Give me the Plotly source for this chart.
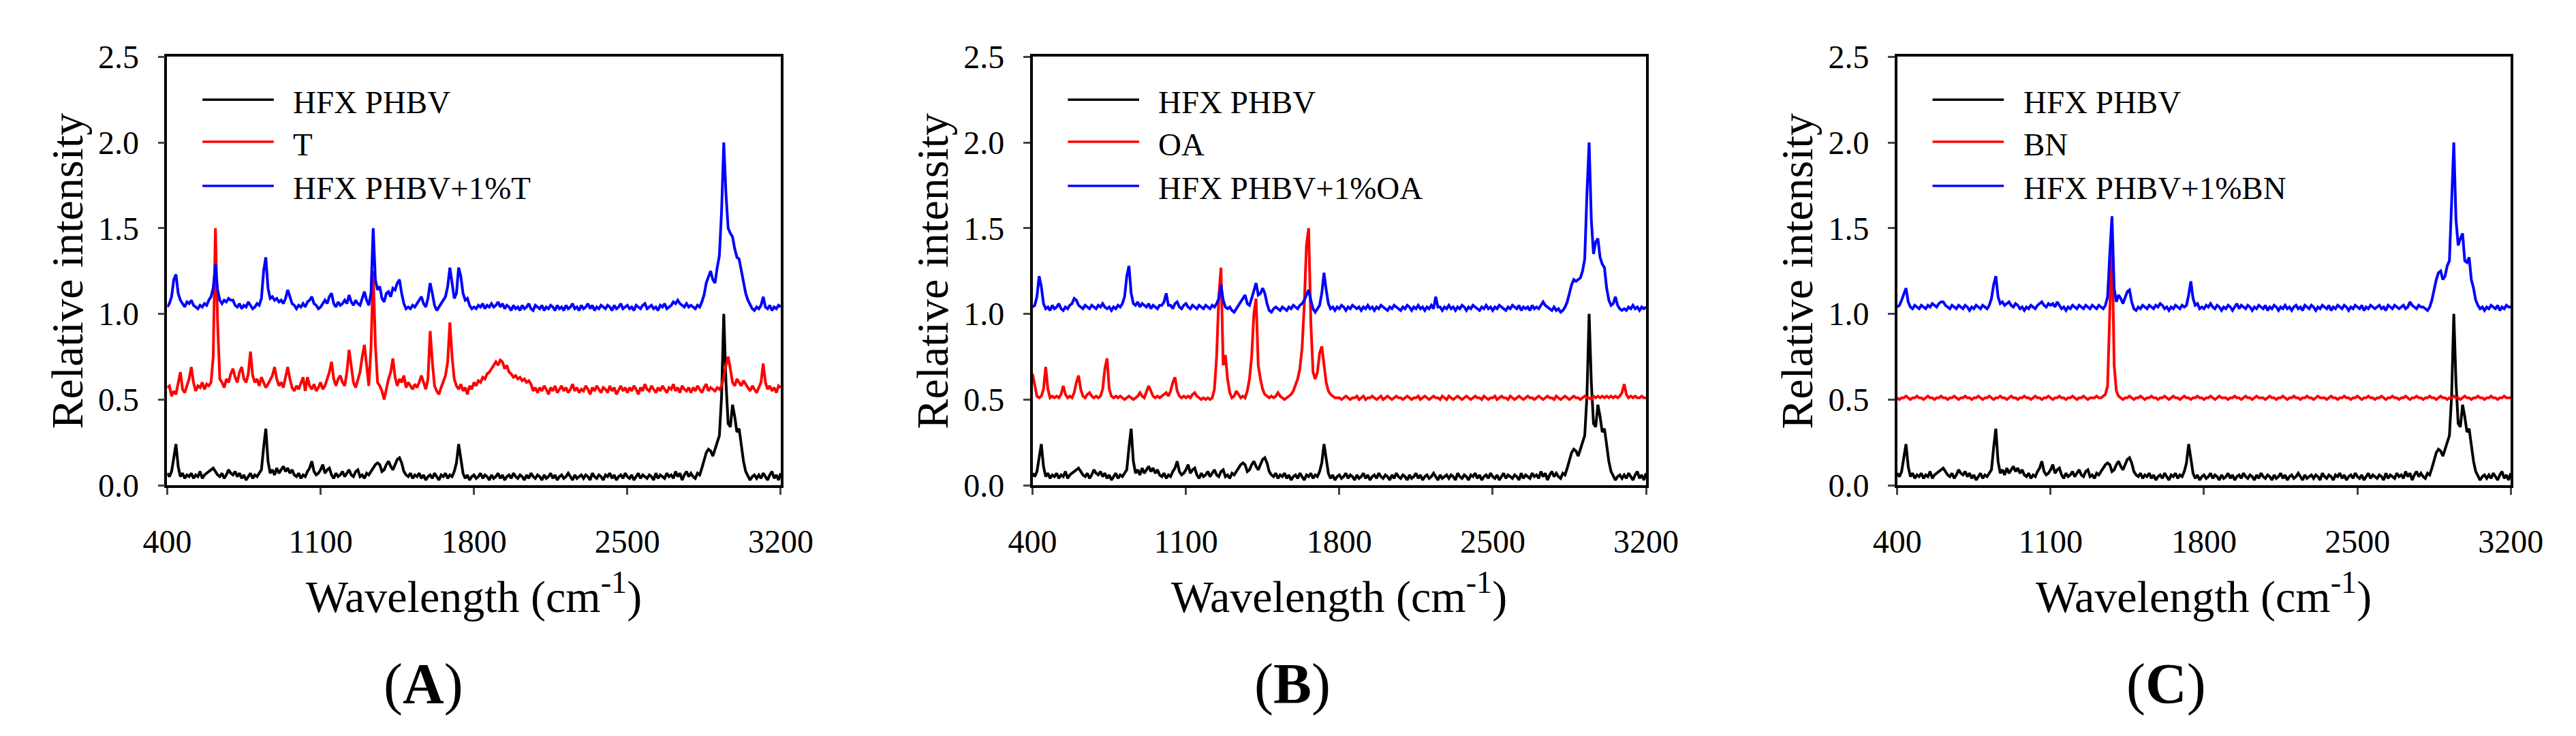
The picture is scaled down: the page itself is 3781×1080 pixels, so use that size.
import plotly.graph_objects as go
from plotly.subplots import make_subplots

# Raman spectra, one value every 10 cm-1 from 400 to 3200
wavenumber = list(range(400, 3201, 10))
x_ticks = [400, 1100, 1800, 2500, 3200]
y_ticks = [0.0, 0.5, 1.0, 1.5, 2.0, 2.5]

# neat HFX PHBV (same curve in all three panels)
hfx_phbv = [
    0.07, 0.05, 0.08, 0.16, 0.24, 0.11, 0.05, 0.07, 0.04, 0.06,  # 400
    0.05, 0.07, 0.04, 0.06, 0.05, 0.08, 0.04, 0.06, 0.07, 0.08,  # 500
    0.09, 0.10, 0.08, 0.06, 0.05, 0.07, 0.04, 0.06, 0.09, 0.07,  # 600
    0.06, 0.08, 0.05, 0.07, 0.04, 0.06, 0.03, 0.05, 0.07, 0.04,  # 700
    0.06, 0.05, 0.07, 0.09, 0.22, 0.33, 0.14, 0.07, 0.09, 0.06,  # 800
    0.10, 0.07, 0.09, 0.11, 0.08, 0.10, 0.07, 0.09, 0.06, 0.05,  # 900
    0.07, 0.04, 0.06, 0.05, 0.08, 0.10, 0.14, 0.08, 0.06, 0.07,  # 1000
    0.09, 0.12, 0.07, 0.09, 0.10, 0.06, 0.04, 0.07, 0.05, 0.06,  # 1100
    0.08, 0.05, 0.07, 0.09, 0.06, 0.05, 0.08, 0.09, 0.05, 0.06,  # 1200
    0.04, 0.07, 0.06, 0.08, 0.10, 0.12, 0.13, 0.12, 0.08, 0.09,  # 1300
    0.12, 0.14, 0.11, 0.09, 0.12, 0.15, 0.16, 0.13, 0.08, 0.06,  # 1400
    0.05, 0.07, 0.04, 0.06, 0.05, 0.07, 0.04, 0.06, 0.03, 0.05,  # 1500
    0.06, 0.04, 0.07, 0.05, 0.03, 0.06, 0.05, 0.07, 0.04, 0.06,  # 1600
    0.05, 0.08, 0.13, 0.24, 0.15, 0.07, 0.04, 0.06, 0.03, 0.05,  # 1700
    0.06, 0.04, 0.05, 0.07, 0.04, 0.06, 0.05, 0.03, 0.06, 0.04,  # 1800
    0.05, 0.07, 0.04, 0.06, 0.03, 0.05, 0.06, 0.04, 0.07, 0.05,  # 1900
    0.04, 0.06, 0.05, 0.03, 0.06, 0.04, 0.07, 0.05, 0.04, 0.06,  # 2000
    0.05, 0.03, 0.06, 0.04, 0.05, 0.07, 0.04, 0.06, 0.03, 0.05,  # 2100
    0.06, 0.04, 0.05, 0.07, 0.05, 0.03, 0.06, 0.04, 0.05, 0.06,  # 2200
    0.04, 0.06, 0.05, 0.03, 0.07, 0.05, 0.04, 0.06, 0.05, 0.03,  # 2300
    0.06, 0.05, 0.07, 0.04, 0.06, 0.03, 0.05, 0.06, 0.04, 0.07,  # 2400
    0.05, 0.04, 0.06, 0.03, 0.05, 0.07, 0.04, 0.06, 0.05, 0.04,  # 2500
    0.06, 0.05, 0.03, 0.07, 0.04, 0.06, 0.05, 0.04, 0.07, 0.05,  # 2600
    0.06, 0.04, 0.08, 0.05, 0.07, 0.03, 0.06, 0.08, 0.05, 0.07,  # 2700
    0.05, 0.04, 0.07, 0.06, 0.10, 0.15, 0.19, 0.21, 0.20, 0.17,  # 2800
    0.21, 0.25, 0.29, 0.52, 1.00, 0.60, 0.36, 0.34, 0.47, 0.40,  # 2900
    0.31, 0.33, 0.22, 0.14, 0.08, 0.05, 0.03, 0.05, 0.06, 0.04,  # 3000
    0.06, 0.04, 0.07, 0.05, 0.03, 0.06, 0.08, 0.04, 0.06, 0.03,  # 3100
    0.07,  # 3200
]

# panel A
t_pure = [
    0.57, 0.58, 0.52, 0.55, 0.53, 0.60, 0.66, 0.56, 0.54, 0.58,  # 400
    0.62, 0.69, 0.60, 0.55, 0.58, 0.57, 0.60, 0.56, 0.59, 0.58,  # 500
    0.60, 0.75, 1.50, 0.95, 0.62, 0.60, 0.57, 0.62, 0.60, 0.65,  # 600
    0.68, 0.63, 0.60, 0.66, 0.69, 0.62, 0.60, 0.65, 0.78, 0.64,  # 700
    0.60, 0.62, 0.58, 0.63, 0.60, 0.57, 0.59, 0.62, 0.64, 0.69,  # 800
    0.62, 0.58, 0.60, 0.57, 0.63, 0.69, 0.62, 0.57, 0.55, 0.58,  # 900
    0.56, 0.60, 0.63, 0.55, 0.63, 0.58, 0.56, 0.59, 0.55, 0.57,  # 1000
    0.60, 0.56, 0.58, 0.62, 0.66, 0.72, 0.62, 0.58, 0.62, 0.64,  # 1100
    0.60, 0.58, 0.66, 0.79, 0.68, 0.60, 0.57, 0.62, 0.66, 0.75,  # 1200
    0.82, 0.70, 0.58, 0.80, 1.25, 0.82, 0.60, 0.58, 0.55, 0.50,  # 1300
    0.56, 0.62, 0.66, 0.74, 0.63, 0.58, 0.62, 0.60, 0.64, 0.57,  # 1400
    0.60, 0.58, 0.56, 0.59, 0.57, 0.60, 0.64, 0.60, 0.56, 0.62,  # 1500
    0.90, 0.72, 0.58, 0.55, 0.53, 0.57, 0.60, 0.64, 0.72, 0.95,  # 1600
    0.75, 0.62, 0.58, 0.56, 0.59, 0.55, 0.57, 0.53, 0.58, 0.56,  # 1700
    0.60, 0.58, 0.61, 0.60, 0.63, 0.62, 0.65, 0.66, 0.68, 0.70,  # 1800
    0.72, 0.70, 0.73, 0.72, 0.68, 0.70, 0.66, 0.65, 0.63, 0.64,  # 1900
    0.62, 0.63, 0.61, 0.62, 0.60, 0.61, 0.59, 0.55, 0.57, 0.54,  # 2000
    0.57, 0.55, 0.58, 0.56, 0.53, 0.57, 0.55, 0.58, 0.54, 0.56,  # 2100
    0.58, 0.55, 0.57, 0.54, 0.56, 0.59, 0.55, 0.57, 0.54, 0.56,  # 2200
    0.55, 0.58, 0.56, 0.53, 0.57, 0.55, 0.58, 0.56, 0.54, 0.57,  # 2300
    0.56, 0.54, 0.58, 0.55, 0.57, 0.53, 0.56, 0.58, 0.55, 0.57,  # 2400
    0.54, 0.57, 0.55, 0.58, 0.56, 0.53, 0.57, 0.55, 0.59, 0.56,  # 2500
    0.55, 0.58, 0.56, 0.54, 0.57, 0.55, 0.58, 0.56, 0.54, 0.57,  # 2600
    0.56, 0.59, 0.55, 0.57, 0.54, 0.58, 0.56, 0.55, 0.57, 0.54,  # 2700
    0.57, 0.55, 0.58, 0.56, 0.54, 0.57, 0.59, 0.55, 0.57, 0.56,  # 2800
    0.55, 0.57, 0.56, 0.58, 0.63, 0.70, 0.75, 0.68, 0.60, 0.58,  # 2900
    0.62, 0.60, 0.58, 0.61, 0.59, 0.57, 0.55, 0.58, 0.56, 0.54,  # 3000
    0.57, 0.60, 0.71, 0.60, 0.56, 0.58, 0.55, 0.57, 0.54, 0.58,  # 3100
    0.57,  # 3200
]

hfx_phbv_t = [
    1.04, 1.06, 1.10, 1.20, 1.23, 1.12, 1.08, 1.06, 1.04, 1.07,  # 400
    1.06, 1.08, 1.05, 1.04, 1.03, 1.05, 1.04, 1.06, 1.05, 1.08,  # 500
    1.10, 1.15, 1.29, 1.14, 1.08, 1.06, 1.08, 1.07, 1.09, 1.08,  # 600
    1.08, 1.05, 1.04, 1.06, 1.03, 1.05, 1.04, 1.07, 1.05, 1.03,  # 700
    1.04, 1.06, 1.05, 1.09, 1.25, 1.33, 1.15, 1.09, 1.10, 1.08,  # 800
    1.09, 1.07, 1.08, 1.06, 1.09, 1.14, 1.10, 1.06, 1.05, 1.03,  # 900
    1.05, 1.04, 1.06, 1.04, 1.07, 1.08, 1.10, 1.06, 1.05, 1.03,  # 1000
    1.04, 1.06, 1.08, 1.06, 1.10, 1.12, 1.06, 1.04, 1.07, 1.05,  # 1100
    1.06, 1.08, 1.06, 1.11, 1.07, 1.05, 1.08, 1.06, 1.05, 1.09,  # 1200
    1.13, 1.08, 1.05, 1.12, 1.50, 1.20, 1.14, 1.16, 1.09, 1.07,  # 1300
    1.12, 1.13, 1.10, 1.15, 1.14, 1.18, 1.20, 1.12, 1.06, 1.03,  # 1400
    1.04, 1.03, 1.05, 1.04, 1.06, 1.08, 1.10, 1.06, 1.04, 1.09,  # 1500
    1.18, 1.12, 1.05, 1.02, 1.04, 1.06, 1.08, 1.10, 1.16, 1.27,  # 1600
    1.18, 1.09, 1.12, 1.27, 1.22, 1.12, 1.08, 1.09, 1.05, 1.03,  # 1700
    1.04, 1.03, 1.05, 1.04, 1.06, 1.03, 1.05, 1.04, 1.06, 1.04,  # 1800
    1.05, 1.07, 1.04, 1.06, 1.03, 1.05, 1.04, 1.02, 1.05, 1.03,  # 1900
    1.04, 1.02, 1.05, 1.03, 1.04, 1.06, 1.03, 1.02, 1.05, 1.04,  # 2000
    1.03, 1.05, 1.02, 1.04, 1.03, 1.05, 1.04, 1.02, 1.05, 1.03,  # 2100
    1.04, 1.02, 1.05, 1.03, 1.04, 1.06, 1.03, 1.04, 1.02, 1.05,  # 2200
    1.03, 1.04, 1.06, 1.03, 1.05, 1.02, 1.04, 1.03, 1.05, 1.04,  # 2300
    1.03, 1.05, 1.04, 1.02, 1.05, 1.03, 1.04, 1.06, 1.03, 1.04,  # 2400
    1.05, 1.03, 1.04, 1.02, 1.05, 1.04, 1.03, 1.05, 1.06, 1.03,  # 2500
    1.04, 1.05, 1.03, 1.04, 1.02, 1.05, 1.04, 1.06, 1.03, 1.04,  # 2600
    1.05, 1.07, 1.06, 1.08, 1.06, 1.05, 1.04, 1.06, 1.04, 1.05,  # 2700
    1.04, 1.03, 1.05, 1.04, 1.07, 1.11, 1.18, 1.22, 1.25, 1.20,  # 2800
    1.18, 1.27, 1.34, 1.60, 2.00, 1.70, 1.50, 1.47, 1.45, 1.38,  # 2900
    1.33, 1.32, 1.25, 1.18, 1.12, 1.08, 1.05, 1.03, 1.02, 1.04,  # 3000
    1.03, 1.05, 1.10, 1.04, 1.03, 1.05, 1.02, 1.04, 1.03, 1.05,  # 3100
    1.04,  # 3200
]

# panel B
oa_pure = [
    0.65, 0.58, 0.52, 0.51, 0.52, 0.56, 0.69, 0.56, 0.51, 0.52,  # 400
    0.51, 0.52, 0.51, 0.53, 0.58, 0.53, 0.51, 0.52, 0.51, 0.54,  # 500
    0.60, 0.64, 0.56, 0.52, 0.51, 0.53, 0.54, 0.52, 0.51, 0.52,  # 600
    0.51, 0.52, 0.56, 0.68, 0.74, 0.56, 0.52, 0.51, 0.52, 0.51,  # 700
    0.52, 0.51, 0.50, 0.51, 0.52, 0.51, 0.50, 0.51, 0.52, 0.54,  # 800
    0.52, 0.51, 0.54, 0.58, 0.55, 0.52, 0.51, 0.52, 0.51, 0.52,  # 900
    0.53, 0.54, 0.52, 0.55, 0.60, 0.63, 0.55, 0.52, 0.51, 0.52,  # 1000
    0.51, 0.52, 0.51, 0.53, 0.54, 0.52, 0.51, 0.50, 0.51, 0.50,  # 1100
    0.51, 0.50, 0.51, 0.56, 0.75, 1.10, 1.27, 0.70, 0.76, 0.62,  # 1200
    0.54, 0.51, 0.52, 0.55, 0.53, 0.51, 0.52, 0.51, 0.55, 0.62,  # 1300
    0.75, 1.00, 1.09, 0.70, 0.62, 0.56, 0.53, 0.52, 0.51, 0.52,  # 1400
    0.51, 0.52, 0.54, 0.52, 0.51, 0.50, 0.51, 0.52, 0.53, 0.55,  # 1500
    0.58, 0.62, 0.68, 0.80, 1.05, 1.40, 1.50, 0.95, 0.66, 0.62,  # 1600
    0.66, 0.77, 0.81, 0.70, 0.60, 0.55, 0.53, 0.52, 0.51, 0.51,  # 1700
    0.51, 0.50, 0.51, 0.52, 0.51, 0.50, 0.51, 0.51, 0.52, 0.50,  # 1800
    0.51, 0.52, 0.50, 0.51, 0.51, 0.52, 0.51, 0.50, 0.51, 0.52,  # 1900
    0.50, 0.51, 0.52, 0.51, 0.50, 0.51, 0.52, 0.51, 0.51, 0.50,  # 2000
    0.51, 0.52, 0.51, 0.50, 0.51, 0.51, 0.52, 0.50, 0.51, 0.52,  # 2100
    0.51, 0.50, 0.51, 0.52, 0.51, 0.51, 0.50, 0.52, 0.51, 0.50,  # 2200
    0.52, 0.51, 0.50, 0.51, 0.52, 0.51, 0.50, 0.51, 0.52, 0.51,  # 2300
    0.50, 0.51, 0.52, 0.51, 0.51, 0.50, 0.52, 0.51, 0.50, 0.51,  # 2400
    0.51, 0.52, 0.50, 0.51, 0.52, 0.51, 0.51, 0.50, 0.52, 0.51,  # 2500
    0.50, 0.51, 0.52, 0.51, 0.50, 0.51, 0.52, 0.51, 0.51, 0.50,  # 2600
    0.51, 0.52, 0.51, 0.50, 0.51, 0.52, 0.51, 0.51, 0.50, 0.52,  # 2700
    0.51, 0.50, 0.51, 0.52, 0.51, 0.50, 0.51, 0.52, 0.51, 0.51,  # 2800
    0.50, 0.51, 0.52, 0.51, 0.51, 0.50, 0.52, 0.51, 0.52, 0.51,  # 2900
    0.52, 0.51, 0.52, 0.51, 0.52, 0.51, 0.52, 0.51, 0.52, 0.54,  # 3000
    0.59, 0.53, 0.51, 0.52, 0.51, 0.52, 0.51, 0.51, 0.52, 0.51,  # 3100
    0.51,  # 3200
]

hfx_phbv_oa = [
    1.04, 1.05, 1.10, 1.22, 1.16, 1.06, 1.03, 1.04, 1.02, 1.05,  # 400
    1.03, 1.04, 1.06, 1.03, 1.02, 1.04, 1.03, 1.05, 1.06, 1.09,  # 500
    1.08, 1.05, 1.04, 1.03, 1.05, 1.04, 1.03, 1.05, 1.04, 1.03,  # 600
    1.05, 1.04, 1.06, 1.04, 1.03, 1.04, 1.02, 1.04, 1.03, 1.05,  # 700
    1.04, 1.06, 1.10, 1.22, 1.28, 1.12, 1.06, 1.05, 1.07, 1.04,  # 800
    1.06, 1.05, 1.04, 1.06, 1.03, 1.05, 1.04, 1.03, 1.05, 1.05,  # 900
    1.07, 1.12, 1.05, 1.05, 1.03, 1.06, 1.07, 1.04, 1.03, 1.05,  # 1000
    1.06, 1.04, 1.03, 1.05, 1.04, 1.03, 1.05, 1.04, 1.03, 1.05,  # 1100
    1.04, 1.03, 1.05, 1.04, 1.06, 1.09, 1.17, 1.08, 1.04, 1.03,  # 1200
    1.04, 1.02, 1.01, 1.03, 1.05, 1.07, 1.09, 1.11, 1.06, 1.05,  # 1300
    1.09, 1.14, 1.18, 1.11, 1.12, 1.15, 1.12, 1.06, 1.02, 1.01,  # 1400
    1.03, 1.04, 1.03, 1.02, 1.04, 1.03, 1.02, 1.04, 1.03, 1.05,  # 1500
    1.04, 1.03, 1.05, 1.06, 1.08, 1.11, 1.14, 1.08, 1.03, 1.01,  # 1600
    1.03, 1.05, 1.12, 1.24, 1.14, 1.06, 1.03, 1.04, 1.02, 1.04,  # 1700
    1.03, 1.05, 1.04, 1.02, 1.04, 1.03, 1.05, 1.04, 1.03, 1.04,  # 1800
    1.02, 1.04, 1.03, 1.05, 1.03, 1.04, 1.02, 1.04, 1.03, 1.05,  # 1900
    1.04, 1.03, 1.02, 1.04, 1.03, 1.05, 1.04, 1.03, 1.02, 1.04,  # 2000
    1.03, 1.05, 1.04, 1.02, 1.04, 1.03, 1.05, 1.03, 1.04, 1.02,  # 2100
    1.04, 1.03, 1.05, 1.03, 1.10, 1.04, 1.04, 1.02, 1.04, 1.03,  # 2200
    1.05, 1.03, 1.04, 1.02, 1.04, 1.03, 1.05, 1.04, 1.02, 1.04,  # 2300
    1.03, 1.05, 1.04, 1.03, 1.02, 1.04, 1.03, 1.05, 1.03, 1.04,  # 2400
    1.02, 1.04, 1.03, 1.05, 1.04, 1.03, 1.02, 1.04, 1.03, 1.05,  # 2500
    1.04, 1.03, 1.05, 1.02, 1.04, 1.03, 1.04, 1.02, 1.05, 1.03,  # 2600
    1.04, 1.03, 1.05, 1.07, 1.05, 1.04, 1.03, 1.02, 1.04, 1.02,  # 2700
    1.03, 1.01, 1.02, 1.04, 1.07, 1.12, 1.17, 1.20, 1.19, 1.20,  # 2800
    1.21, 1.25, 1.32, 1.70, 2.00, 1.55, 1.35, 1.42, 1.44, 1.33,  # 2900
    1.29, 1.27, 1.15, 1.08, 1.05, 1.06, 1.10, 1.05, 1.03, 1.02,  # 3000
    1.03, 1.02, 1.04, 1.03, 1.05, 1.03, 1.04, 1.02, 1.04, 1.03,  # 3100
    1.04,  # 3200
]

# panel C
bn_pure = [
    0.51, 0.50, 0.51, 0.51, 0.52, 0.51, 0.50, 0.51, 0.51, 0.52,  # 400
    0.51, 0.51, 0.50, 0.51, 0.52, 0.51, 0.51, 0.50, 0.51, 0.51,  # 500
    0.52, 0.51, 0.51, 0.50, 0.51, 0.51, 0.52, 0.51, 0.50, 0.51,  # 600
    0.51, 0.52, 0.51, 0.51, 0.50, 0.51, 0.51, 0.52, 0.51, 0.50,  # 700
    0.51, 0.51, 0.52, 0.51, 0.50, 0.51, 0.51, 0.52, 0.51, 0.51,  # 800
    0.50, 0.51, 0.52, 0.51, 0.51, 0.50, 0.51, 0.51, 0.52, 0.51,  # 900
    0.51, 0.50, 0.51, 0.52, 0.51, 0.51, 0.50, 0.51, 0.51, 0.52,  # 1000
    0.51, 0.50, 0.51, 0.51, 0.52, 0.51, 0.51, 0.50, 0.51, 0.51,  # 1100
    0.52, 0.51, 0.50, 0.51, 0.51, 0.52, 0.51, 0.50, 0.51, 0.51,  # 1200
    0.51, 0.52, 0.51, 0.51, 0.52, 0.53, 0.58, 1.05, 1.45, 0.70,  # 1300
    0.55, 0.52, 0.51, 0.50, 0.51, 0.51, 0.52, 0.51, 0.50, 0.51,  # 1400
    0.51, 0.52, 0.51, 0.50, 0.51, 0.51, 0.52, 0.51, 0.51, 0.50,  # 1500
    0.51, 0.51, 0.52, 0.51, 0.50, 0.51, 0.52, 0.51, 0.51, 0.50,  # 1600
    0.51, 0.52, 0.51, 0.51, 0.50, 0.51, 0.51, 0.52, 0.51, 0.51,  # 1700
    0.50, 0.51, 0.51, 0.52, 0.51, 0.50, 0.51, 0.52, 0.51, 0.51,  # 1800
    0.51, 0.50, 0.51, 0.51, 0.52, 0.51, 0.51, 0.50, 0.51, 0.52,  # 1900
    0.51, 0.51, 0.50, 0.51, 0.52, 0.51, 0.51, 0.51, 0.50, 0.51,  # 2000
    0.52, 0.51, 0.51, 0.50, 0.51, 0.51, 0.52, 0.51, 0.50, 0.51,  # 2100
    0.51, 0.52, 0.51, 0.51, 0.50, 0.51, 0.51, 0.52, 0.51, 0.51,  # 2200
    0.50, 0.51, 0.52, 0.51, 0.51, 0.51, 0.50, 0.51, 0.52, 0.51,  # 2300
    0.51, 0.50, 0.51, 0.51, 0.52, 0.51, 0.51, 0.50, 0.51, 0.51,  # 2400
    0.52, 0.51, 0.50, 0.51, 0.51, 0.52, 0.51, 0.51, 0.50, 0.51,  # 2500
    0.51, 0.52, 0.51, 0.50, 0.51, 0.51, 0.52, 0.51, 0.51, 0.50,  # 2600
    0.51, 0.51, 0.52, 0.51, 0.50, 0.51, 0.51, 0.52, 0.51, 0.51,  # 2700
    0.50, 0.51, 0.51, 0.52, 0.51, 0.51, 0.50, 0.51, 0.52, 0.51,  # 2800
    0.51, 0.50, 0.51, 0.51, 0.52, 0.51, 0.51, 0.50, 0.51, 0.52,  # 2900
    0.51, 0.51, 0.50, 0.51, 0.51, 0.52, 0.51, 0.51, 0.50, 0.51,  # 3000
    0.51, 0.52, 0.51, 0.51, 0.50, 0.51, 0.51, 0.52, 0.51, 0.51,  # 3100
    0.51,  # 3200
]

hfx_phbv_bn = [
    1.04, 1.05, 1.08, 1.12, 1.15, 1.07, 1.04, 1.03, 1.05, 1.04,  # 400
    1.03, 1.05, 1.04, 1.03, 1.05, 1.04, 1.06, 1.05, 1.04, 1.06,  # 500
    1.07, 1.07, 1.05, 1.04, 1.03, 1.05, 1.04, 1.03, 1.05, 1.04,  # 600
    1.03, 1.05, 1.04, 1.02, 1.04, 1.03, 1.05, 1.04, 1.03, 1.05,  # 700
    1.04, 1.03, 1.05, 1.09, 1.17, 1.22, 1.10, 1.06, 1.07, 1.05,  # 800
    1.06, 1.07, 1.05, 1.04, 1.06, 1.05, 1.03, 1.04, 1.02, 1.04,  # 900
    1.03, 1.05, 1.04, 1.03, 1.05, 1.06, 1.07, 1.05, 1.04, 1.06,  # 1000
    1.05, 1.06, 1.04, 1.07, 1.05, 1.03, 1.04, 1.02, 1.04, 1.03,  # 1100
    1.05, 1.04, 1.03, 1.05, 1.04, 1.03, 1.05, 1.04, 1.03, 1.05,  # 1200
    1.04, 1.03, 1.05, 1.04, 1.03, 1.05, 1.10, 1.35, 1.57, 1.15,  # 1300
    1.07, 1.11, 1.09, 1.06, 1.09, 1.13, 1.14, 1.07, 1.03, 1.02,  # 1400
    1.04, 1.03, 1.05, 1.04, 1.03, 1.05, 1.04, 1.03, 1.05, 1.04,  # 1500
    1.06, 1.05, 1.03, 1.04, 1.02, 1.04, 1.03, 1.05, 1.04, 1.03,  # 1600
    1.05, 1.04, 1.05, 1.11, 1.19, 1.09, 1.05, 1.06, 1.03, 1.04,  # 1700
    1.03, 1.05, 1.04, 1.06, 1.04, 1.03, 1.05, 1.04, 1.02, 1.04,  # 1800
    1.03, 1.05, 1.04, 1.02, 1.04, 1.06, 1.03, 1.05, 1.04, 1.03,  # 1900
    1.05, 1.04, 1.02, 1.04, 1.03, 1.05, 1.04, 1.03, 1.05, 1.02,  # 2000
    1.04, 1.03, 1.05, 1.04, 1.02, 1.04, 1.03, 1.05, 1.03, 1.04,  # 2100
    1.02, 1.04, 1.05, 1.03, 1.04, 1.02, 1.05, 1.04, 1.03, 1.05,  # 2200
    1.04, 1.02, 1.04, 1.03, 1.05, 1.04, 1.03, 1.05, 1.02, 1.04,  # 2300
    1.03, 1.05, 1.04, 1.03, 1.05, 1.04, 1.02, 1.04, 1.03, 1.05,  # 2400
    1.04, 1.03, 1.05, 1.02, 1.04, 1.03, 1.05, 1.04, 1.03, 1.04,  # 2500
    1.05, 1.03, 1.04, 1.02, 1.05, 1.04, 1.03, 1.05, 1.04, 1.03,  # 2600
    1.04, 1.05, 1.03, 1.04, 1.07, 1.05, 1.04, 1.03, 1.05, 1.04,  # 2700
    1.04, 1.03, 1.02, 1.04, 1.08, 1.14, 1.20, 1.24, 1.25, 1.20,  # 2800
    1.22, 1.28, 1.31, 1.65, 2.00, 1.55, 1.40, 1.44, 1.47, 1.31,  # 2900
    1.30, 1.33, 1.20, 1.15, 1.08, 1.05, 1.03, 1.04, 1.02, 1.04,  # 3000
    1.03, 1.05, 1.04, 1.03, 1.05, 1.02, 1.04, 1.03, 1.05, 1.04,  # 3100
    1.04,  # 3200
]

additives = ["T", "OA", "BN"]
panel_letters = ["A", "B", "C"]
additive_spectra = [t_pure, oa_pure, bn_pure]
blend_spectra = [hfx_phbv_t, hfx_phbv_oa, hfx_phbv_bn]

for s in [hfx_phbv] + additive_spectra + blend_spectra:
    assert len(s) == len(wavenumber), len(s)

W, H = 3781, 1080
FONT = "Liberation Serif, Times New Roman, serif"
left_px = [206, 1505, 2803]   # left edge of each plot box
plot_w = 921
top_px, bottom_px = 52, 713
letter_px = [591, 1895, 3207]

fig = make_subplots(rows=1, cols=3)

for i in range(3):
    col = i + 1
    sfx = "" if col == 1 else str(col)
    names = ["HFX PHBV", additives[i], "HFX PHBV+1%" + additives[i]]
    colors = ["black", "red", "blue"]
    curves = [hfx_phbv, additive_spectra[i], blend_spectra[i]]
    for name, color, ys in zip(names, colors, curves):
        fig.add_trace(go.Scatter(x=wavenumber, y=ys, mode="lines", name=name,
                                 line=dict(color=color, width=4), showlegend=False),
                      row=1, col=col)

    # hand-made legend (long line samples like the original)
    for k, (name, color) in enumerate(zip(names, colors)):
        ly = [0.900, 0.802, 0.699][k]
        fig.add_shape(type="line", xref=f"x{sfx} domain", yref=f"y{sfx} domain",
                      x0=0.0575, x1=0.1737, y0=ly, y1=ly,
                      line=dict(color=color, width=3.5))
        fig.add_annotation(xref=f"x{sfx} domain", yref=f"y{sfx} domain",
                           x=0.203, y=ly - 0.006, text=name, showarrow=False,
                           xanchor="left", yanchor="middle",
                           font=dict(family=FONT, size=47, color="black"))

    x0 = left_px[i] / W
    x1 = (left_px[i] + plot_w) / W
    fig.layout[f"xaxis{sfx}"].domain = [x0, x1]
    fig.layout[f"yaxis{sfx}"].domain = [(H - bottom_px) / H, (H - top_px) / H]

    # axis titles and panel letter
    fig.add_annotation(xref="paper", yref="paper", x=(x0 + x1) / 2, y=(H - 880) / H,
                       text="Wavelength (cm<sup>-1</sup>)", showarrow=False,
                       xanchor="center", yanchor="middle",
                       font=dict(family=FONT, size=66, color="black"))
    fig.add_annotation(xref="paper", yref="paper", x=(left_px[i] - 150) / W,
                       y=(H - (top_px + bottom_px) / 2) / H,
                       text="Relative intensity", textangle=-90, showarrow=False,
                       xanchor="center", yanchor="middle",
                       font=dict(family=FONT, size=66, color="black"))
    fig.add_annotation(xref="paper", yref="paper", x=letter_px[i] / W, y=(H - 1020) / H,
                       text="(<b>" + panel_letters[i] + "</b>)", showarrow=False,
                       xanchor="center", yanchor="middle",
                       font=dict(family=FONT, size=84, color="black"))

fig.update_xaxes(range=[400, 3200], tickvals=x_ticks, ticks="outside", ticklen=10, tickwidth=3,
                 showline=True, linewidth=3.5, linecolor="black", mirror=True,
                 showgrid=False, zeroline=False, ticklabelstandoff=28,
                 tickfont=dict(family=FONT, size=48, color="black"))
fig.update_yaxes(range=[0, 2.5], tickvals=y_ticks, tickformat=".1f", ticks="outside", ticklen=10,
                 tickwidth=3, showline=True, linewidth=3.5, linecolor="black", mirror=True,
                 showgrid=False, zeroline=False, ticklabelstandoff=18,
                 tickfont=dict(family=FONT, size=48, color="black"))

fig.update_layout(width=W, height=H, margin=dict(l=0, r=0, t=0, b=0),
                  plot_bgcolor="white", paper_bgcolor="white", showlegend=False)

fig.write_html("out.html")
